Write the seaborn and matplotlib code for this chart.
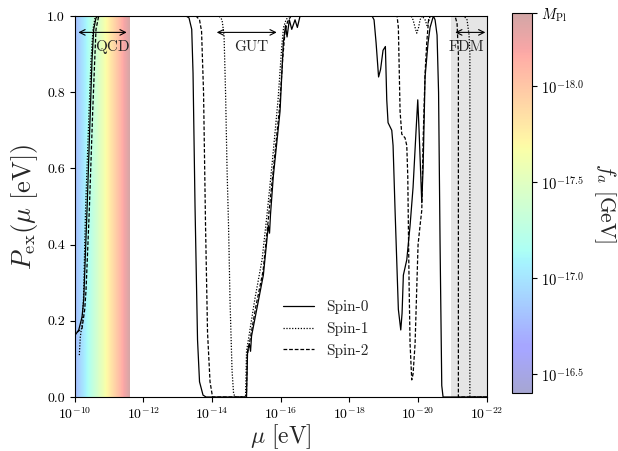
import numpy as np
import matplotlib
matplotlib.use("Agg")
import matplotlib.pyplot as plt
from matplotlib.colors import ListedColormap, Normalize
from matplotlib.cm import ScalarMappable
from matplotlib.ticker import NullLocator
import seaborn as sns

# ---- exclusion probability curves: log10(mu / eV) and P_ex ----
spin0_logmu = [-10.000, -10.017, -10.117, -10.213, -10.262, -10.358, -10.454, -10.504, -10.553, -10.620, -10.679,
               -13.242, -13.329, -13.408, -13.446, -13.504, -13.577, -13.635, -13.737, -13.825,
               -15.004, -15.034, -15.086, -15.121, -15.150, -15.301, -15.494, -15.639, -15.674, -15.703, -15.785,
               -15.980, -16.076, -16.140, -16.184, -16.251, -16.321, -16.417, -16.484, -16.563,
               -18.660, -18.718, -18.777, -18.850, -18.908, -18.980, -19.048, -19.088, -19.126, -19.234, -19.272,
               -19.330, -19.426, -19.496, -19.534, -19.572, -19.671, -19.767, -19.854, -19.942, -19.991, -20.029,
               -20.108, -20.146, -20.204, -20.291, -20.350, -20.446, -20.495, -20.553, -20.597, -20.641, -20.690,
               -20.728, -22.000]
spin0_p = [0.10, 0.163, 0.176, 0.21, 0.255, 0.49, 0.75, 0.885, 0.965, 0.995, 1.0,
           1.0, 0.995, 0.965, 0.85, 0.50, 0.15, 0.04, 0.005, 0.0,
           0.0, 0.12, 0.14, 0.12, 0.16, 0.23, 0.32, 0.45, 0.43, 0.48, 0.58,
           0.75, 0.93, 0.975, 0.945, 0.99, 0.965, 0.99, 0.97, 1.0,
           1.0, 0.99, 0.93, 0.84, 0.86, 0.91, 0.92, 0.78, 0.72, 0.70, 0.66,
           0.49, 0.23, 0.176, 0.22, 0.32, 0.36, 0.45, 0.55, 0.70, 0.78, 0.70,
           0.51, 0.60, 0.84, 0.93, 0.97, 1.0, 0.99, 0.95, 0.80, 0.40, 0.03,
           0.0, 0.0]

spin1_logmu = [-10.134, -10.163, -10.213, -10.256, -10.315, -10.417, -10.475, -10.533, -10.591, -10.650,
               -14.203, -14.291, -14.349, -14.393, -14.436, -14.480, -14.524, -14.582, -14.626, -14.669,
               -14.975, -15.004, -15.252, -15.456, -15.602, -15.747, -15.922, -16.030, -16.082, -16.155, -16.242,
               -19.796, -19.854, -19.913, -19.962, -20.015, -20.058, -20.117, -20.204, -20.262, -20.306, -20.350,
               -21.340, -21.427, -21.485, -21.509, -21.509, -22.000]
spin1_p = [0.11, 0.158, 0.19, 0.26, 0.49, 0.75, 0.885, 0.965, 0.995, 1.0,
           1.0, 0.99, 0.95, 0.80, 0.60, 0.45, 0.25, 0.07, 0.01, 0.0,
           0.0, 0.12, 0.26, 0.36, 0.48, 0.61, 0.78, 0.92, 0.97, 0.99, 1.0,
           1.0, 0.99, 0.97, 0.955, 0.97, 0.99, 1.0, 0.99, 0.975, 0.985, 1.0,
           1.0, 0.99, 0.95, 0.90, 0.0, 0.0]

spin2_logmu = [-10.067, -10.213, -10.291, -10.329, -10.425, -10.524, -10.583, -10.620, -10.699,
               -13.533, -13.635, -13.694, -13.752, -13.810, -13.868, -13.941, -14.014,
               -14.999, -15.028, -15.077, -15.281, -15.485, -15.631, -15.776, -15.966, -16.059, -16.126, -16.199,
               -16.301,
               -19.388, -19.426, -19.476, -19.525, -19.621, -19.671, -19.700, -19.738, -19.767, -19.816, -19.854,
               -19.913, -20.000, -20.058, -20.108, -20.146, -20.204, -20.253, -20.306, -20.350,
               -21.078, -21.136, -21.174, -21.174, -22.000]
spin2_p = [0.17, 0.18, 0.23, 0.28, 0.49, 0.75, 0.885, 0.965, 1.0,
           1.0, 0.99, 0.96, 0.80, 0.45, 0.17, 0.04, 0.0,
           0.0, 0.11, 0.135, 0.24, 0.33, 0.46, 0.59, 0.76, 0.89, 0.96, 0.985,
           1.0,
           1.0, 0.97, 0.75, 0.69, 0.68, 0.66, 0.58, 0.30, 0.14, 0.045, 0.06,
           0.14, 0.40, 0.45, 0.49, 0.67, 0.85, 0.93, 0.99, 1.0,
           1.0, 0.98, 0.90, 0.0, 0.0]

series_labels = ["Spin-0", "Spin-1", "Spin-2"]

# ---- shaded regions ----
qcd_logmu_edges = [-10.0, -11.62]     # QCD axion band
qcd_logfa_edges = [16.76, 18.38]      # corresponding log10(f_a / GeV)
fdm_logmu_edges = [-20.97, -22.0]     # fuzzy dark matter band

# ---- colour bar ----
fa_log_range = [16.40, 18.38]
cbar_tick_values = [16.5, 17.0, 17.5, 18.0, 18.38]
cbar_tick_labels = [r"$10^{-16.5}$", r"$10^{-17.0}$", r"$10^{-17.5}$", r"$10^{-18.0}$", r"$M_{\rm Pl}$"]

# ---- band annotations: (left logmu, right logmu, text logmu, text) ----
band_arrows = [(-10.105, -11.515, -11.10, "QCD"),
               (-14.136, -15.884, -15.14, "GUT"),
               (-21.08, -21.96, -21.40, "FDM")]

x_ticks_log = [-10, -12, -14, -16, -18, -20, -22]

sns.set_style("ticks")
plt.rcParams.update({
    "font.family": "serif",
    "font.serif": ["cmr10", "DejaVu Serif"],
    "mathtext.fontset": "cm",
    "axes.formatter.use_mathtext": True,
    "axes.unicode_minus": False,
    "axes.edgecolor": "black",
    "axes.linewidth": 0.8,
    "xtick.color": "black",
    "ytick.color": "black",
    "xtick.direction": "out",
    "ytick.direction": "out",
    "xtick.major.size": 3.5,
    "ytick.major.size": 3.5,
    "xtick.labelsize": 10,
    "ytick.labelsize": 10,
})

fig = plt.figure(figsize=(6.18, 4.51), dpi=100)
ax = fig.add_axes([0.1209, 0.1197, 0.6667, 0.8448])
cax = fig.add_axes([0.829, 0.128, 0.0314, 0.8426])

# translucent jet colour map shared by the QCD band and the colour bar
jet_rgba = plt.get_cmap("jet")(np.linspace(0, 1, 256))
jet_rgba[:, 3] = 0.35
cmap = ListedColormap(jet_rgba)
norm = Normalize(vmin=fa_log_range[0], vmax=fa_log_range[1])

# QCD band: colour follows f_a across the band
n_strips = 200
band_edges = np.linspace(qcd_logmu_edges[0], qcd_logmu_edges[1], n_strips + 1)
band_mid = 0.5 * (band_edges[:-1] + band_edges[1:])
band_fa = np.interp(band_mid, qcd_logmu_edges[::-1], qcd_logfa_edges[::-1])
ax.pcolormesh(10.0 ** band_edges, [0.0, 1.0], band_fa[np.newaxis, :],
              cmap=cmap, norm=norm, shading="flat", zorder=0, rasterized=True)

# FDM band
ax.axvspan(10.0 ** fdm_logmu_edges[0], 10.0 ** fdm_logmu_edges[1],
           color="0.5", alpha=0.2, lw=0, zorder=0)

styles = ["-", (0, (1.0, 1.3)), (0, (3.0, 1.5))]
for logmu, p, lab, ls in zip([spin0_logmu, spin1_logmu, spin2_logmu],
                             [spin0_p, spin1_p, spin2_p], series_labels, styles):
    sns.lineplot(x=10.0 ** np.asarray(logmu), y=np.asarray(p), ax=ax, color="black",
                 lw=0.9, linestyle=ls, label=lab, estimator=None, sort=False, zorder=3)

ax.set_xscale("log")
ax.set_xlim(1e-10, 1e-22)
ax.set_ylim(0.0, 1.0)
ax.set_xticks([10.0 ** t for t in x_ticks_log])
ax.xaxis.set_minor_locator(NullLocator())
ax.set_yticks([0.0, 0.2, 0.4, 0.6, 0.8, 1.0])
ax.set_yticklabels(["0.0", "0.2", "0.4", "0.6", "0.8", "1.0"])

ax.set_xlabel(r"$\mu\ [{\rm eV}]$", fontsize=17, labelpad=0)
ax.set_ylabel(r"$P_{\rm ex}(\mu\ [{\rm eV}])$", fontsize=19, labelpad=5)

for lo, hi, tx, name in band_arrows:
    ax.annotate("", xy=(10.0 ** hi, 0.957), xytext=(10.0 ** lo, 0.957),
                arrowprops=dict(arrowstyle="<->", lw=0.8, color="black",
                                shrinkA=0, shrinkB=0), zorder=4)
    ax.text(10.0 ** tx, 0.918, name, ha="center", va="center", fontsize=11, zorder=4)

leg = ax.legend(loc="center", bbox_to_anchor=(0.6097, 0.1787), frameon=False,
                fontsize=11, handlelength=2.0, handletextpad=0.8, labelspacing=0.5)

cb = fig.colorbar(ScalarMappable(norm=norm, cmap=cmap), cax=cax)
cb.set_ticks(cbar_tick_values)
cb.set_ticklabels(cbar_tick_labels)
cb.ax.tick_params(labelsize=10.5, length=3.5)
cb.outline.set_linewidth(0.8)
cb.set_label(r"$f_a\ [{\rm GeV}]$", fontsize=15.5, rotation=270, labelpad=24)

fig.savefig("out.png", dpi=100)
